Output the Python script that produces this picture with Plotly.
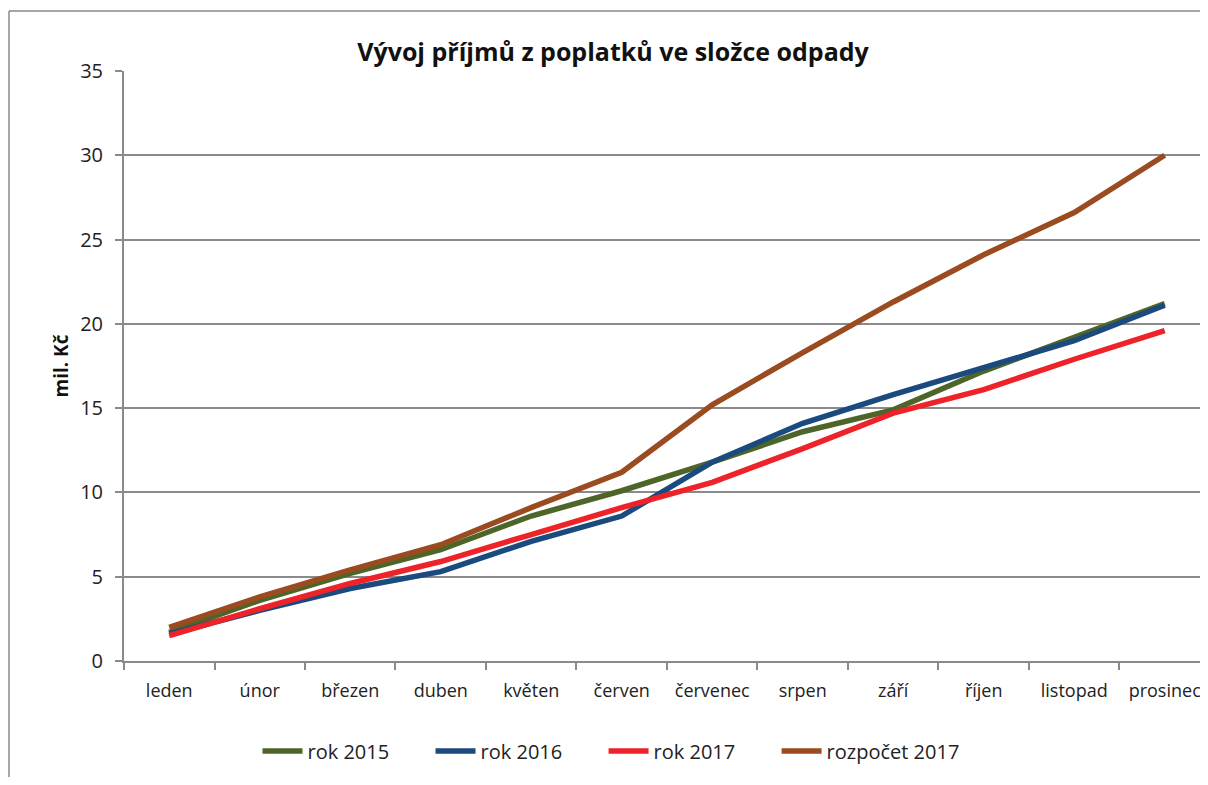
import plotly.graph_objects as go

# months (category axis)
months = ['leden', 'únor', 'březen', 'duben', 'květen', 'červen',
          'červenec', 'srpen', 'září', 'říjen', 'listopad', 'prosinec']

# cumulative income, mil. Kč
rok_2015 = [1.7, 3.6, 5.2, 6.6, 8.6, 10.1, 11.8, 13.6, 14.9, 17.2, 19.2, 21.2]
rok_2016 = [1.6, 3.0, 4.3, 5.3, 7.1, 8.6, 11.8, 14.1, 15.8, 17.4, 19.0, 21.1]
rok_2017 = [1.5, 3.1, 4.6, 5.9, 7.5, 9.1, 10.6, 12.6, 14.7, 16.1, 17.9, 19.6]
rozpocet_2017 = [2.0, 3.8, 5.4, 6.9, 9.1, 11.2, 15.2, 18.3, 21.3, 24.1, 26.6, 30.0]

series = [
    ('rok 2015', rok_2015, '#4E6529'),
    ('rok 2016', rok_2016, '#1B4A7E'),
    ('rok 2017', rok_2017, '#EE2229'),
    ('rozpočet 2017', rozpocet_2017, '#9A4B20'),
]

FONT = 'Open Sans'
GRAY = '#8A8A8A'
TXT = '#222222'
PAD = '\u00a0' * 7  # extra gap between legend entries

fig = go.Figure()
for i, (name, vals, color) in enumerate(series):
    label = name + (PAD if i < len(series) - 1 else '')
    fig.add_trace(go.Scatter(
        x=months, y=vals, mode='lines', name=label,
        line=dict(color=color, width=5.5)
    ))

# page has an 8px body margin on every side, keep the figure inside the window
W, H = 1192, 769
L, R, T, B = 116, 0, 63, 116
pw = W - L - R
ph = H - T - B

fig.update_layout(
    width=W, height=H,
    margin=dict(l=L, r=R, t=T, b=B, autoexpand=False),
    plot_bgcolor='white', paper_bgcolor='white',
    font=dict(family=FONT, size=19, color=TXT),
    title=dict(
        text='<b>Vývoj příjmů z poplatků ve složce odpady</b>',
        font=dict(family=FONT, size=25, color='#111111'),
        x=605 / W, xanchor='center', xref='container',
        y=1 - 44 / H, yanchor='middle', yref='container'
    ),
    showlegend=True,
    legend=dict(
        orientation='h', xref='container', yref='container',
        x=603 / W, xanchor='center', y=1 - 743 / H, yanchor='middle',
        font=dict(family=FONT, size=20, color=TXT),
        itemwidth=40, tracegroupgap=0
    ),
    xaxis=dict(
        # chart runs past the right window edge in the source, last
        # category boundary is cut off
        type='category', range=[-0.5, 11.39], automargin=False,
        showgrid=False, showline=True, linecolor=GRAY, linewidth=2,
        ticks='outside', tickson='boundaries', ticklen=7, tickangle=0,
        tickcolor=GRAY, tickwidth=1.5, ticklabelstandoff=12,
        tickfont=dict(family=FONT, size=18, color=TXT)
    ),
    yaxis=dict(
        range=[0, 35], dtick=5, showgrid=True, gridcolor=GRAY, gridwidth=2,
        showline=True, linecolor=GRAY, linewidth=2, zeroline=False,
        ticks='outside', ticklen=7, tickcolor=GRAY, tickwidth=1.5,
        ticklabelstandoff=8, automargin=False,
        tickfont=dict(family=FONT, size=20, color=TXT),
        title=dict(text='<b>mil. Kč</b>', standoff=6,
                   font=dict(family=FONT, size=19, color='#111111'))
    ),
)

# outer chart frame (left and top edges visible in the crop)
x0 = (1 - L) / pw
ytop = (H - 3 - B) / ph
fig.add_shape(type='line', xref='paper', yref='paper',
              x0=x0, x1=x0, y0=ytop, y1=-B / ph,
              line=dict(color=GRAY, width=1.5))
fig.add_shape(type='line', xref='paper', yref='paper',
              x0=x0, x1=1.01, y0=ytop, y1=ytop,
              line=dict(color=GRAY, width=1.5))

fig.write_html("out.html")
